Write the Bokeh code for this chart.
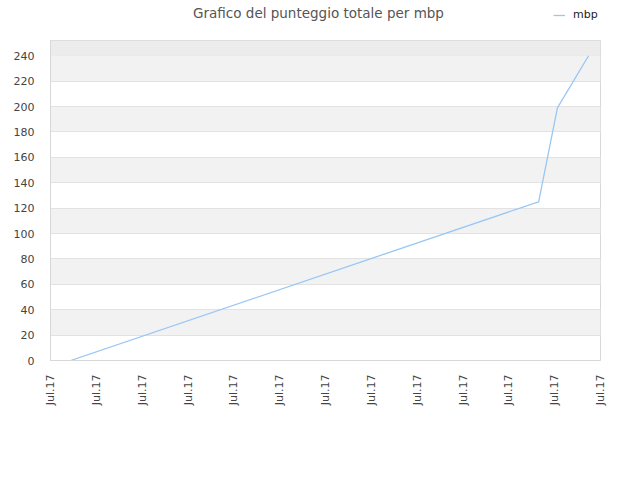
from bokeh.plotting import figure
from bokeh.models import FixedTicker, Legend, LegendItem, BoxAnnotation, Label
from bokeh.layouts import column
from bokeh.embed import file_html
from bokeh.resources import INLINE
from math import pi, nan

title_text = "Grafico del punteggio totale per mbp"
series_name = "mbp"
x_ticks = list(range(13))
x_tick_labels = ["Jul.17"] * 13
x_values = [0.44, 10.65, 11.06, 11.74]
y_values = [0, 125, 199, 240]
y_ticks = list(range(0, 241, 20))

FONT = "DejaVu Sans"
LINE_COLOR = "#99c7f5"

# header with title and legend (its frame gets aligned to the main frame: x 50..600)
header = figure(width=640, height=30, output_backend="svg", toolbar_location=None,
                x_range=(50, 600), y_range=(0, 30),
                min_border_left=0, min_border_right=0, min_border_top=0, min_border_bottom=0)
header.axis.visible = False
header.grid.grid_line_color = None
header.outline_line_color = None
header.background_fill_color = "white"
header.border_fill_color = "white"
header.add_layout(Label(x=318, y=18, text=title_text, text_align="center", text_baseline="middle",
                        text_font=FONT, text_font_size="13.5px", text_color="#555555"))
dummy = header.line([nan], [nan], line_color=LINE_COLOR, line_width=1.3)
legend = Legend(items=[LegendItem(label=series_name, renderers=[dummy], index=0)], location=(503, 9),
                background_fill_alpha=0, border_line_color=None,
                label_text_font=FONT, label_text_font_size="11px", label_text_color="#222222",
                glyph_width=12, glyph_height=10, padding=0, margin=0, spacing=0, label_standoff=8)
header.add_layout(legend, "center")

p = figure(width=640, height=450, output_backend="svg", toolbar_location=None,
           x_range=(0, 12), y_range=(0, 252),
           min_border_left=50, min_border_right=40, min_border_top=10, min_border_bottom=120)
p.background_fill_color = "white"
p.border_fill_color = "white"
p.outline_line_color = "#d8d8d8"

p.line(x_values, y_values, line_color=LINE_COLOR, line_width=1.3)

p.xaxis.ticker = FixedTicker(ticks=x_ticks)
p.xaxis.major_label_overrides = {t: l for t, l in zip(x_ticks, x_tick_labels)}
p.xaxis.major_label_orientation = pi / 2
p.yaxis.ticker = FixedTicker(ticks=y_ticks)

for ax in (p.xaxis, p.yaxis):
    ax.major_tick_line_color = None
    ax.minor_tick_line_color = None
    ax.axis_line_color = "#d8d8d8"
    ax.major_label_text_font = FONT
    ax.major_label_text_font_size = "11px"
    ax.major_label_text_color = "#444444"
p.xaxis.major_label_standoff = 8
p.yaxis.major_label_standoff = 10

p.xgrid.grid_line_color = None
p.ygrid.grid_line_color = "#e2e2e2"
p.ygrid.band_fill_color = "#f2f2f2"
p.ygrid.band_fill_alpha = 1.0

p.add_layout(BoxAnnotation(bottom=240, fill_color="#ececec", fill_alpha=1.0, line_color=None, level="underlay"))

layout = column(header, p, spacing=0)
open("out.html", "w").write(file_html(layout, INLINE))
